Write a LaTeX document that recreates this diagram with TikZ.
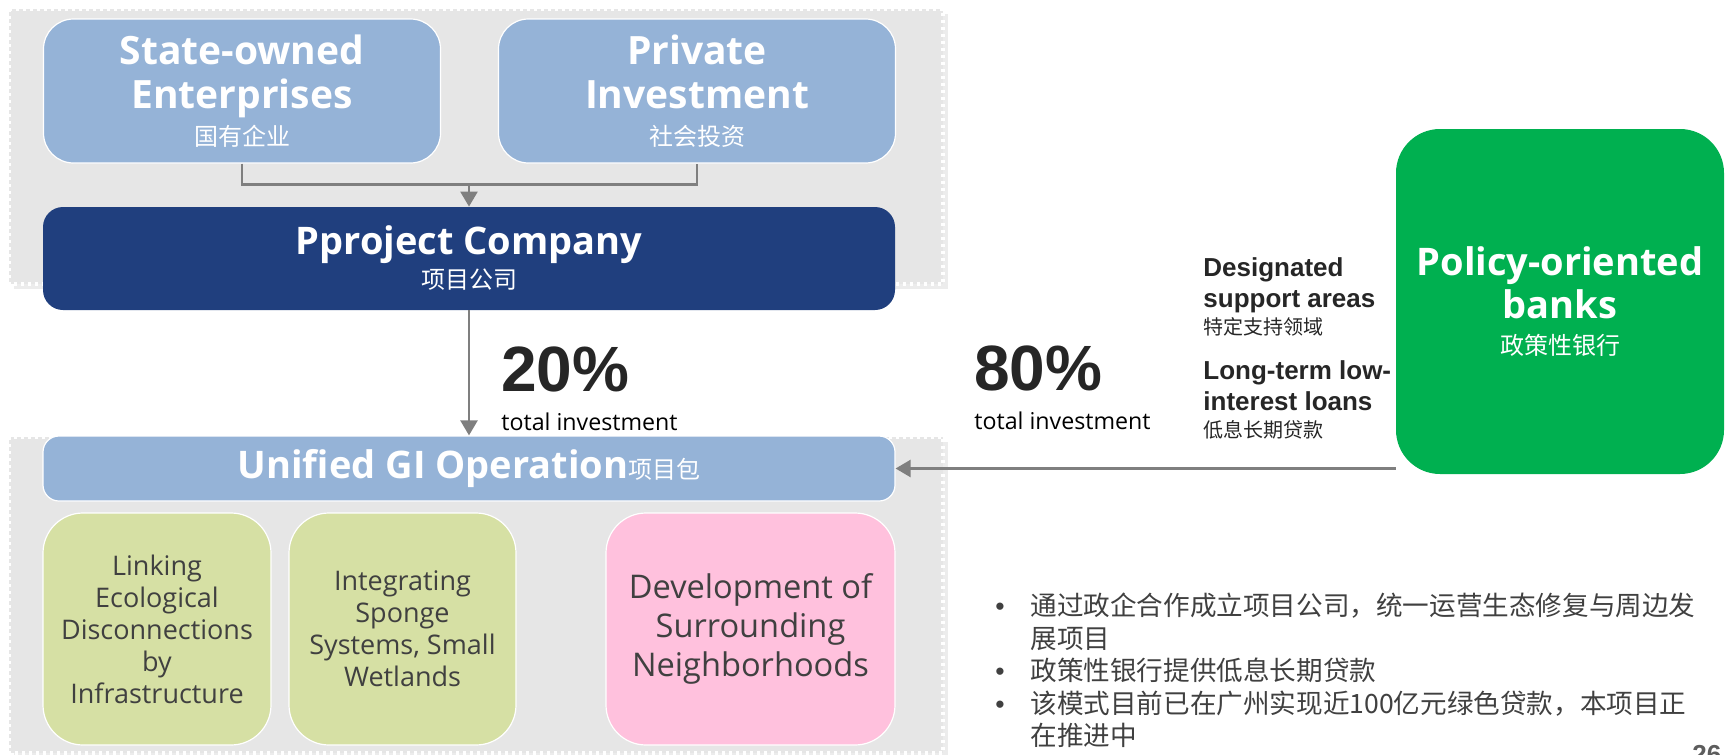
\documentclass[tikz,border=0pt]{standalone}
\usepackage{fontspec}
\setmainfont{Open Sans}
\newfontfamily\cjk{Noto Sans CJK SC}
\newfontfamily\arialf{Liberation Sans}
\usetikzlibrary{arrows.meta,shadows}
\definecolor{panelgray}{HTML}{E6E6E6}
\definecolor{lightblue}{HTML}{95B3D7}
\definecolor{navy}{HTML}{203F7E}
\definecolor{sage}{HTML}{D6E0A4}
\definecolor{softpink}{HTML}{FFC1DD}
\definecolor{bankgreen}{HTML}{00B050}
\definecolor{textgray}{HTML}{404040}
\definecolor{linegray}{HTML}{7F7F7F}
\definecolor{numdark}{HTML}{262626}
\newcommand{\fsz}[2]{\fontsize{#1}{#2}\selectfont}
\begin{document}
\begin{tikzpicture}[x=0.5pt,y=-0.5pt,
  panel/.style={fill=panelgray, draw=white, line width=1.6pt,
    dash pattern=on 1.7pt off 1.8pt,
    drop shadow={opacity=0.15, shadow xshift=2.5pt, shadow yshift=-2.5pt}},
  box/.style={inner sep=0pt, align=center},
  srcbox/.style={box, fill=lightblue, draw=white, line width=0.6pt,
    rounded corners=15pt, text=white, minimum width=198.5pt, minimum height=72pt,
    font=\bfseries\fsz{19.5}{22}},
  pcbox/.style={box, fill=navy, rounded corners=10pt, text=white,
    minimum width=426pt, minimum height=51.5pt, font=\bfseries\fsz{19}{21}},
  opbox/.style={box, fill=lightblue, draw=white, line width=0.6pt, rounded corners=8pt,
    text=white, minimum width=426pt, minimum height=32.5pt, font=\bfseries\fsz{19}{21}},
  subbox/.style={box, draw=white, line width=0.6pt, rounded corners=20pt,
    text=textgray, minimum height=116pt},
  bankbox/.style={box, fill=bankgreen, rounded corners=22pt, text=white,
    minimum width=164pt, minimum height=172.5pt, font=\bfseries\fsz{19}{21.5}},
  pct/.style={inner sep=0pt, anchor=base west, text=numdark, font=\arialf\bfseries\fsz{32}{34}},
  pctnote/.style={inner sep=0pt, anchor=base west, text=black, font=\fsz{11.6}{13}},
  loannote/.style={inner sep=0pt, anchor=north west, align=left, text=numdark,
    font=\arialf\bfseries\fsz{13}{15.5}},
  conn/.style={draw=linegray, line width=1.2pt},
  arr/.style={conn, -{Triangle[width=8.5pt,length=7.5pt]}}
]
\useasboundingbox (0,0) rectangle (1725,755);

% grey background panels
\path[panel] (9,9) rectangle (943,284);
\path[panel] (9,437) rectangle (943,753);

% investors
\node[srcbox] (soe) at (242,91)
  {State-owned\\Enterprises\\[-3.5pt]{\cjk\mdseries\fsz{12}{14}国有企业}};
\node[srcbox] (priv) at (697,91)
  {Private\\Investment\\[-3.5pt]{\cjk\mdseries\fsz{12}{14}社会投资}};

% project company
\node[pcbox] (pc) at (469,258.5)
  {Pproject Company\\[-4pt]{\cjk\mdseries\fsz{12}{14}项目公司}};

% unified operation and its parts
\node[opbox] (ugi) at (469,468.5)
  {Unified GI Operation{\cjk\mdseries\fsz{12}{14}项目包}};
\node[subbox, fill=sage, minimum width=114pt, font=\fsz{13.5}{16}] (link) at (157,629)
  {Linking\\Ecological\\Disconnections\\by\\Infrastructure};
\node[subbox, fill=sage, minimum width=113.5pt, font=\fsz{13.5}{16}] (sponge) at (402.5,629)
  {Integrating\\Sponge\\Systems, Small\\Wetlands};
\node[subbox, fill=softpink, minimum width=144.5pt, font=\fsz{16.3}{19.5}] (dev) at (750.5,629)
  {Development of\\Surrounding\\Neighborhoods};

% policy bank
\node[bankbox] (bank) at (1560,301.5)
  {Policy-oriented\\banks\\[-3.5pt]{\cjk\mdseries\fsz{12}{14}政策性银行}};

% shares of investment
\node[pct] (p20) at (501,391) {20\%};
\node[pctnote] (p20n) at (501,430) {total investment};
\node[pct] (p80) at (974,390) {80\%};
\node[pctnote] (p80n) at (974,429) {total investment};

% loan terms
\node[loannote] (areas) at (1203,257)
  {Designated\\support areas\\[-2pt]{\cjk\mdseries\fsz{10}{12}特定支持领域}};
\node[loannote] (loans) at (1203,360)
  {Long-term low-\\interest loans\\[-2pt]{\cjk\mdseries\fsz{10}{12}低息长期贷款}};

% connectors
\coordinate (join) at ([yshift=-10.5pt]soe.south);
\draw[conn] (soe.south) -- (join) -| (priv.south);
\draw[arr] (join -| pc.north) -- (pc.north);
\draw[arr] (pc.south) -- (ugi.north);
\draw[arr] (bank.west |- ugi.east) -- (ugi.east);

% notes
\node[inner sep=0pt, anchor=north west, align=left, text=textgray,
      font=\cjk\fsz{13.3}{16.2}] (notes) at (995,593)
  {\makebox[17.5pt][l]{\arialf •}通过政企合作成立项目公司，统一运营生态修复与周边发\\
   \hspace*{17.5pt}展项目\\
   \makebox[17.5pt][l]{\arialf •}政策性银行提供低息长期贷款\\
   \makebox[17.5pt][l]{\arialf •}该模式目前已在广州实现近100亿元绿色贷款，本项目正\\
   \hspace*{17.5pt}在推进中};

% page number
\node[inner sep=0pt, anchor=north west, text=textgray!85,
      font=\arialf\bfseries\fsz{13}{15}] (pageno) at (1692,745) {26};
\end{tikzpicture}
\end{document}
